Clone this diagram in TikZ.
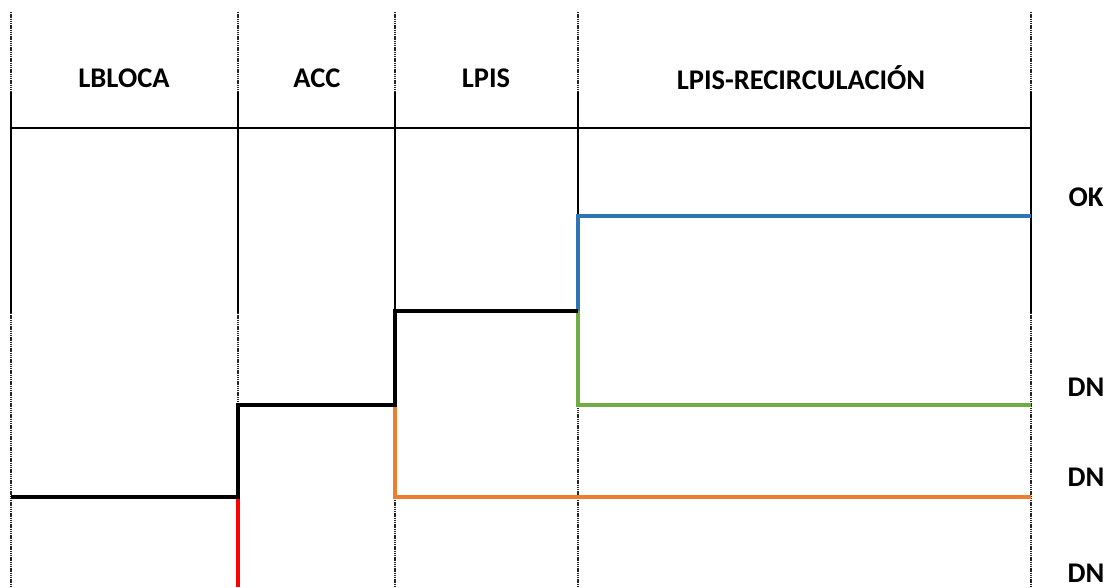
\documentclass[tikz,border=0pt]{standalone}
\usepackage{fontspec}
\setmainfont{Carlito}
\begin{document}
\begin{tikzpicture}[x=1pt,y=-1pt,
  grid/.style={line width=2pt,black},
  gridfaint/.style={line width=2pt,black!85,dash pattern=on 1.4pt off 0.8pt},
  rule/.style={line width=2.6pt,black},
  path/.style={line width=4pt,line join=miter,line cap=butt},
  head/.style={font=\fontsize{28.5}{30}\selectfont\bfseries,anchor=center},
  state/.style={font=\fontsize{28.5}{30}\selectfont\bfseries,inner sep=0pt,anchor=base}]
\useasboundingbox (0,0) rectangle (1114,587);

% column boundaries
\foreach \n/\x in {a/11,b/238,c/395,d/578,e/1031}{
  \coordinate (\n top) at (\x,12);
  \coordinate (\n mid) at (\x,92);
  \coordinate (\n low) at (\x,313);
  \coordinate (\n bot) at (\x,587);
  \draw[gridfaint] (\n top) -- (\n mid);
  \draw[grid] (\n mid) -- (\n low);
  \draw[gridfaint] (\n low) -- (\n bot);
}

% header rule
\coordinate (hl) at (11,128);
\coordinate (hr) at (1031,128);
\draw[rule] (hl) -- (hr);

% column titles
\node[head] (t1) at (124,78) {LBLOCA};
\node[head] (t2) at (317,78) {ACC};
\node[head] (t3) at (486,78) {LPIS};
\node[head] (t4) at (801,78) {LPIS-RECIRCULACIÓN};

% outcome labels
\node[state] (ok)  at (1086,206) {OK};
\node[state] (dn1) at (1086,396) {DN};
\node[state] (dn2) at (1086,486) {DN};
\node[state] (dn3) at (1086,582) {DN};

% event tree branch points
\coordinate (s0) at (11,497);
\coordinate (b1) at (238,497);
\coordinate (b1u) at (238,405);
\coordinate (b2) at (395,405);
\coordinate (b2u) at (395,311);
\coordinate (b3) at (578,311);
\coordinate (b3u) at (578,216);
\coordinate (b3d) at (578,405);
\coordinate (b2d) at (395,497);
\coordinate (eOK) at (1031,216);
\coordinate (eD1) at (1031,405);
\coordinate (eD2) at (1031,497);
\coordinate (eD3) at (238,587);

% failure branches
\draw[path,red] (b1) -- (eD3);
\draw[path,color={rgb,255:red,237;green,125;blue,49}] (b2) -- (b2d) -- (eD2);
\draw[path,color={rgb,255:red,112;green,173;blue,71}] (b3) -- (b3d) -- (eD1);
\draw[path,color={rgb,255:red,46;green,117;blue,182}] (b3) -- (b3u) -- (eOK);
% success path
\draw[path,black] (s0) -- (b1) -- (b1u) -- (b2) -- (b2u) -- (b3);
\end{tikzpicture}
\end{document}
